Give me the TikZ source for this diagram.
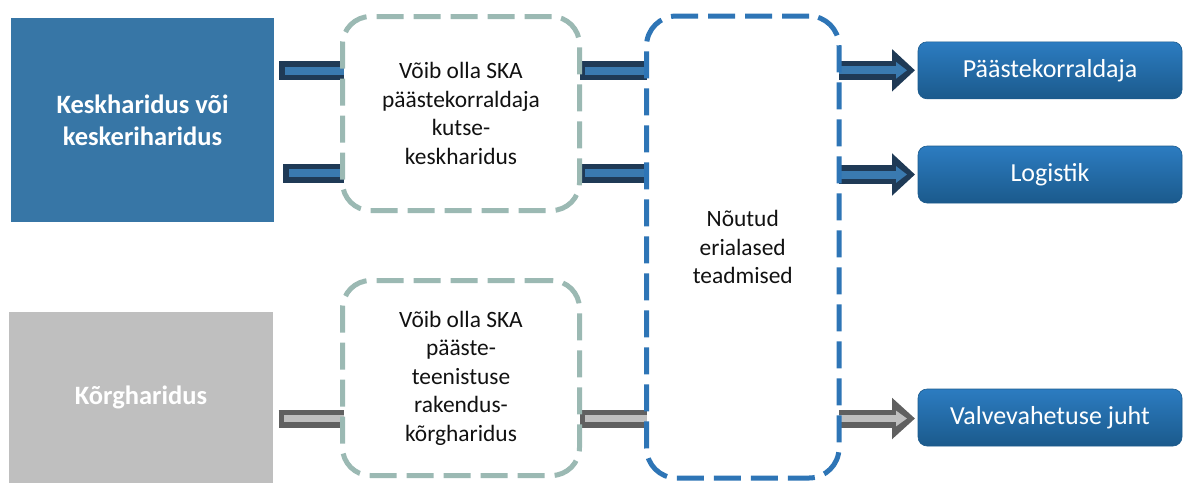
\documentclass[tikz,border=0pt]{standalone}
\usepackage{fontspec}
\setmainfont{Carlito}
\usetikzlibrary{arrows.meta,backgrounds}
\definecolor{eduBlue}{HTML}{3776A6}
\definecolor{eduGray}{HTML}{BFBFBF}
\definecolor{optTeal}{HTML}{9BB9B3}
\definecolor{bigBlue}{HTML}{2E75B6}
\definecolor{arrDark}{HTML}{1F3A56}
\definecolor{arrIn}{HTML}{3A7AB0}
\definecolor{gDark}{HTML}{606060}
\definecolor{gIn}{HTML}{BFBFBF}
\definecolor{roleTop}{HTML}{2C7CC1}
\definecolor{roleBot}{HTML}{1B5A8C}
\definecolor{txtBlack}{HTML}{111111}
\begin{document}
\begin{tikzpicture}[x=1pt,y=-1pt,
  every node/.style={inner sep=0pt, outer sep=0pt},
  edubox/.style={rectangle, text=white, align=center,
    font=\fontsize{26.5}{32.4}\selectfont\bfseries},
  dashbox/.style={rectangle, rounded corners=28pt, line width=5pt,
    dash pattern=on 27pt off 10pt, align=center, text=txtBlack,
    font=\fontsize{23.4}{28.5}\selectfont},
  optbox/.style={dashbox, draw=optTeal},
  bigbox/.style={dashbox, draw=bigBlue, rounded corners=30pt},
  rolebox/.style={rectangle, rounded corners=9pt, top color=roleTop,
    bottom color=roleBot, draw=roleBot, line width=0.6pt, text=white,
    minimum width=264pt, minimum height=57pt,
    font=\fontsize{26}{31}\selectfont},
  shaftB/.style={line width=19pt, draw=arrDark,
    postaction={draw=arrIn, line width=8pt, shorten <=5.5pt}},
  shaftG/.style={line width=18pt, draw=gDark,
    postaction={draw=gIn, line width=7pt, shorten <=5.5pt}},
  arrowB/.style={line width=19pt, draw=arrDark,
    -{Triangle[length=23pt,width=41pt]},
    postaction={draw=arrIn, line width=8pt,
      -{Triangle[length=11pt,width=16pt]}, shorten >=8pt}},
  arrowG/.style={line width=18pt, draw=gDark,
    -{Triangle[length=23pt,width=40pt]},
    postaction={draw=gIn, line width=7pt,
      -{Triangle[length=11pt,width=15pt]}, shorten >=8pt}},
]
\useasboundingbox (0,0) rectangle (1188,483);

% left education boxes
\node[edubox, fill=eduBlue, minimum width=263.6pt, minimum height=203.4pt]
  (kesk) at (142.5,120) {Keskharidus või\\keskeriharidus};
\node[edubox, fill=eduGray, minimum width=263.4pt, minimum height=171.3pt]
  (korg) at (141,397.3) {Kõrgharidus};

% dashed boxes
\node[optbox, minimum width=237pt, minimum height=194pt]
  (opt1) at (461,113.5) {Võib olla SKA\\päästekorraldaja\\kutse-\\keskharidus};
\node[optbox, minimum width=237pt, minimum height=195pt]
  (opt2) at (461,378) {Võib olla SKA\\pääste-\\teenistuse\\rakendus-\\kõrgharidus};
\node[bigbox, minimum width=192.5pt, minimum height=462pt]
  (big) at (742.75,247) {Nõutud\\erialased\\teadmised};

% role boxes
\node[rolebox, minimum height=57pt] (role1) at (1050,70.3) {Päästekorraldaja};
\node[rolebox] (role2) at (1050,174.5) {Logistik};
\node[rolebox] (role3) at (1050,417.5) {Valvevahetuse juht};

% row levels
\coordinate (ya) at (0,70.5);
\coordinate (yb) at (0,173);
\coordinate (yc) at (0,418.5);

\begin{scope}[on background layer]
  \draw[shaftB] ([xshift=5pt]kesk.east |- ya) -- ([xshift=1pt]opt1.west |- ya);
  \draw[shaftB] ([xshift=9pt]kesk.east |- yb) -- ([xshift=1pt]opt1.west |- yb);
  \draw[shaftB] (opt1.east |- ya) -- (big.west |- ya);
  \draw[shaftB] (opt1.east |- yb) -- (big.west |- yb);
  \draw[arrowB] (big.east |- role1) -- ([xshift=-3pt]role1.west);
  \draw[arrowB] (big.east |- role2) -- ([xshift=-3pt]role2.west);
  \draw[shaftG] ([xshift=6pt]korg.east |- yc) -- ([xshift=1pt]opt2.west |- yc);
  \draw[shaftG] (opt2.east |- yc) -- (big.west |- yc);
  \draw[arrowG] (big.east |- yc) -- ([xshift=-3pt]role3.west |- yc);
\end{scope}
\end{tikzpicture}
\end{document}
